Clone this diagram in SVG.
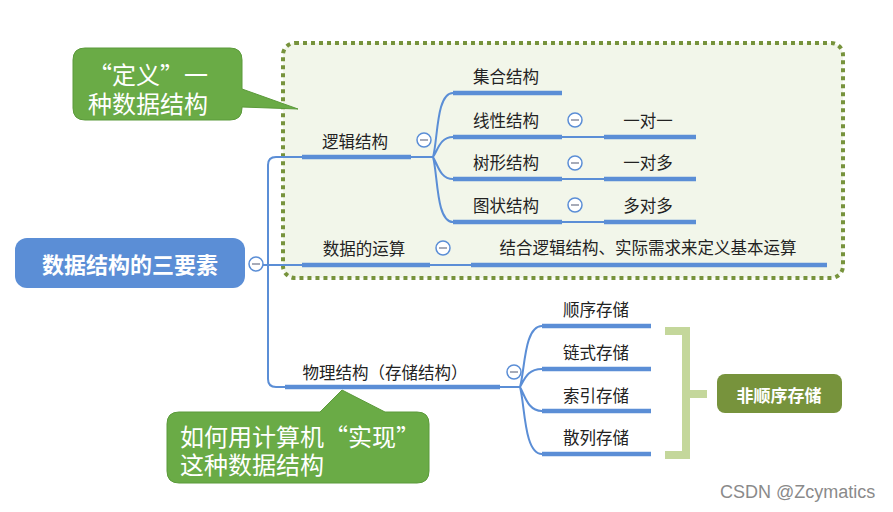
<svg xmlns="http://www.w3.org/2000/svg" width="893" height="512" viewBox="0 0 893 512">
<style>
.t{font-family:"Noto Sans CJK SC","Noto Sans",sans-serif;font-size:16.5px;fill:#222;dominant-baseline:central;text-anchor:middle}
.thin{fill:none;stroke:#5b8ed6;stroke-width:2}
.thick{fill:none;stroke:#5b8ed6;stroke-width:4.5}
.c circle{fill:#fff;stroke:#5b8ed6;stroke-width:1.5}
.c line{stroke:#8a8fa0;stroke-width:1.5}
.call{fill:#6aab46;stroke:#5b9a3a;stroke-width:1}
.ct{font-family:"Noto Sans CJK SC","Noto Sans",sans-serif;font-size:24px;fill:#fff;dominant-baseline:central}
</style>
<rect width="893" height="512" fill="#fff"/>
<rect id="frame" x="283" y="43" width="560" height="235" rx="12" fill="#f2f6ea" stroke="#77933c" stroke-width="4" stroke-dasharray="4 4"/>
<g id="connectors">
<path class="thin" d="M263,265 H302 M302,157 H276 Q268,157 268,165 V379 Q268,387 276,387 H285"/>
<path class="thick" d="M302,157 H411 M302,265 H430 M471,265 H827 M285,387 H500"/>
<path class="thin" d="M411,157 H433 M433,157 C438,140 436,93 453,93 M433,157 C438,150 440,137 453,137 M433,157 C438,165 440,179 453,179 M433,157 C438,175 436,222 453,222 M430,265 H471"/>
<path class="thick" d="M453,93 H562 M453,137 H562 M453,179 H562 M453,222 H562 M604,137 H696 M604,179 H696 M604,222 H696"/>
<path class="thin" d="M562,137 H604 M562,179 H604 M562,222 H604"/>
<path class="thin" d="M500,387 H520 M520,387 C525,370 524,326 542,326 M520,387 C525,378 528,369 542,369 M520,387 C525,396 528,411 542,411 M520,387 C525,405 524,454 542,454"/>
<path class="thick" d="M542,326 H651 M542,369 H651 M542,411 H651 M542,454 H651"/>
<path fill="none" stroke="#c4d79b" stroke-width="8" d="M665,331 H686 V455 H665 M686,394 H707"/>
</g>
<g class="c">
<g><circle cx="256" cy="264" r="7"/><line x1="252" y1="264" x2="260" y2="264"/></g>
<g><circle cx="424" cy="140" r="7"/><line x1="420" y1="140" x2="428" y2="140"/></g>
<g><circle cx="443" cy="248" r="7"/><line x1="439" y1="248" x2="447" y2="248"/></g>
<g><circle cx="575" cy="120" r="7"/><line x1="571" y1="120" x2="579" y2="120"/></g>
<g><circle cx="575" cy="163" r="7"/><line x1="571" y1="163" x2="579" y2="163"/></g>
<g><circle cx="575" cy="205" r="7"/><line x1="571" y1="205" x2="579" y2="205"/></g>
<g><circle cx="514" cy="372" r="7"/><line x1="510" y1="372" x2="518" y2="372"/></g>
</g>
<g id="root"><rect x="15" y="238" width="230" height="50" rx="12" fill="#5b8ed6"/><text class="t" x="130" y="263" style="fill:#fff;font-size:22px;font-weight:bold">数据结构的三要素</text></g>
<g id="logic"><text class="t" x="355" y="141">逻辑结构</text></g>
<g id="ops"><text class="t" x="364" y="248">数据的运算</text></g>
<g id="set"><text class="t" x="506" y="76">集合结构</text></g>
<g id="linear"><text class="t" x="506" y="120">线性结构</text></g>
<g id="tree"><text class="t" x="506" y="162">树形结构</text></g>
<g id="graph"><text class="t" x="506" y="205">图状结构</text></g>
<g id="o11"><text class="t" x="648" y="120">一对一</text></g>
<g id="o1n"><text class="t" x="648" y="162">一对多</text></g>
<g id="onn"><text class="t" x="648" y="205">多对多</text></g>
<g id="opsdef"><text class="t" x="648" y="247">结合逻辑结构、实际需求来定义基本运算</text></g>
<g id="physical"><text class="t" x="385" y="372">物理结构（存储结构）</text></g>
<g id="seq"><text class="t" x="596" y="309">顺序存储</text></g>
<g id="link"><text class="t" x="596" y="352">链式存储</text></g>
<g id="idx"><text class="t" x="596" y="395">索引存储</text></g>
<g id="hash"><text class="t" x="596" y="437">散列存储</text></g>
<g id="nonseq"><rect x="717" y="374" width="125" height="39" rx="8" fill="#77933c"/><text class="t" x="779" y="394" style="fill:#fff;font-size:17px;font-weight:bold">非顺序存储</text></g>
<g id="callout1"><path class="call" d="M85,48 H230 Q242,48 242,60 V89 L298,109 L242,107 V108 Q242,120 230,120 H85 Q73,120 73,108 V60 Q73,48 85,48 Z"/><text class="ct"><tspan x="88" y="73">“定义”一</tspan><tspan x="88" y="102">种数据结构</tspan></text></g>
<g id="callout2"><path class="call" d="M179,412 H320 L342,390 L385,412 H417 Q429,412 429,424 V471 Q429,483 417,483 H179 Q167,483 167,471 V424 Q167,412 179,412 Z"/><text class="ct"><tspan x="180" y="435">如何用计算机“实现”</tspan><tspan x="180" y="463">这种数据结构</tspan></text></g>
<text x="720" y="498" style="font-family:'Liberation Sans',Arial,sans-serif;font-size:18px;fill:#8a8a8a">CSDN @Zcymatics</text>
</svg>
